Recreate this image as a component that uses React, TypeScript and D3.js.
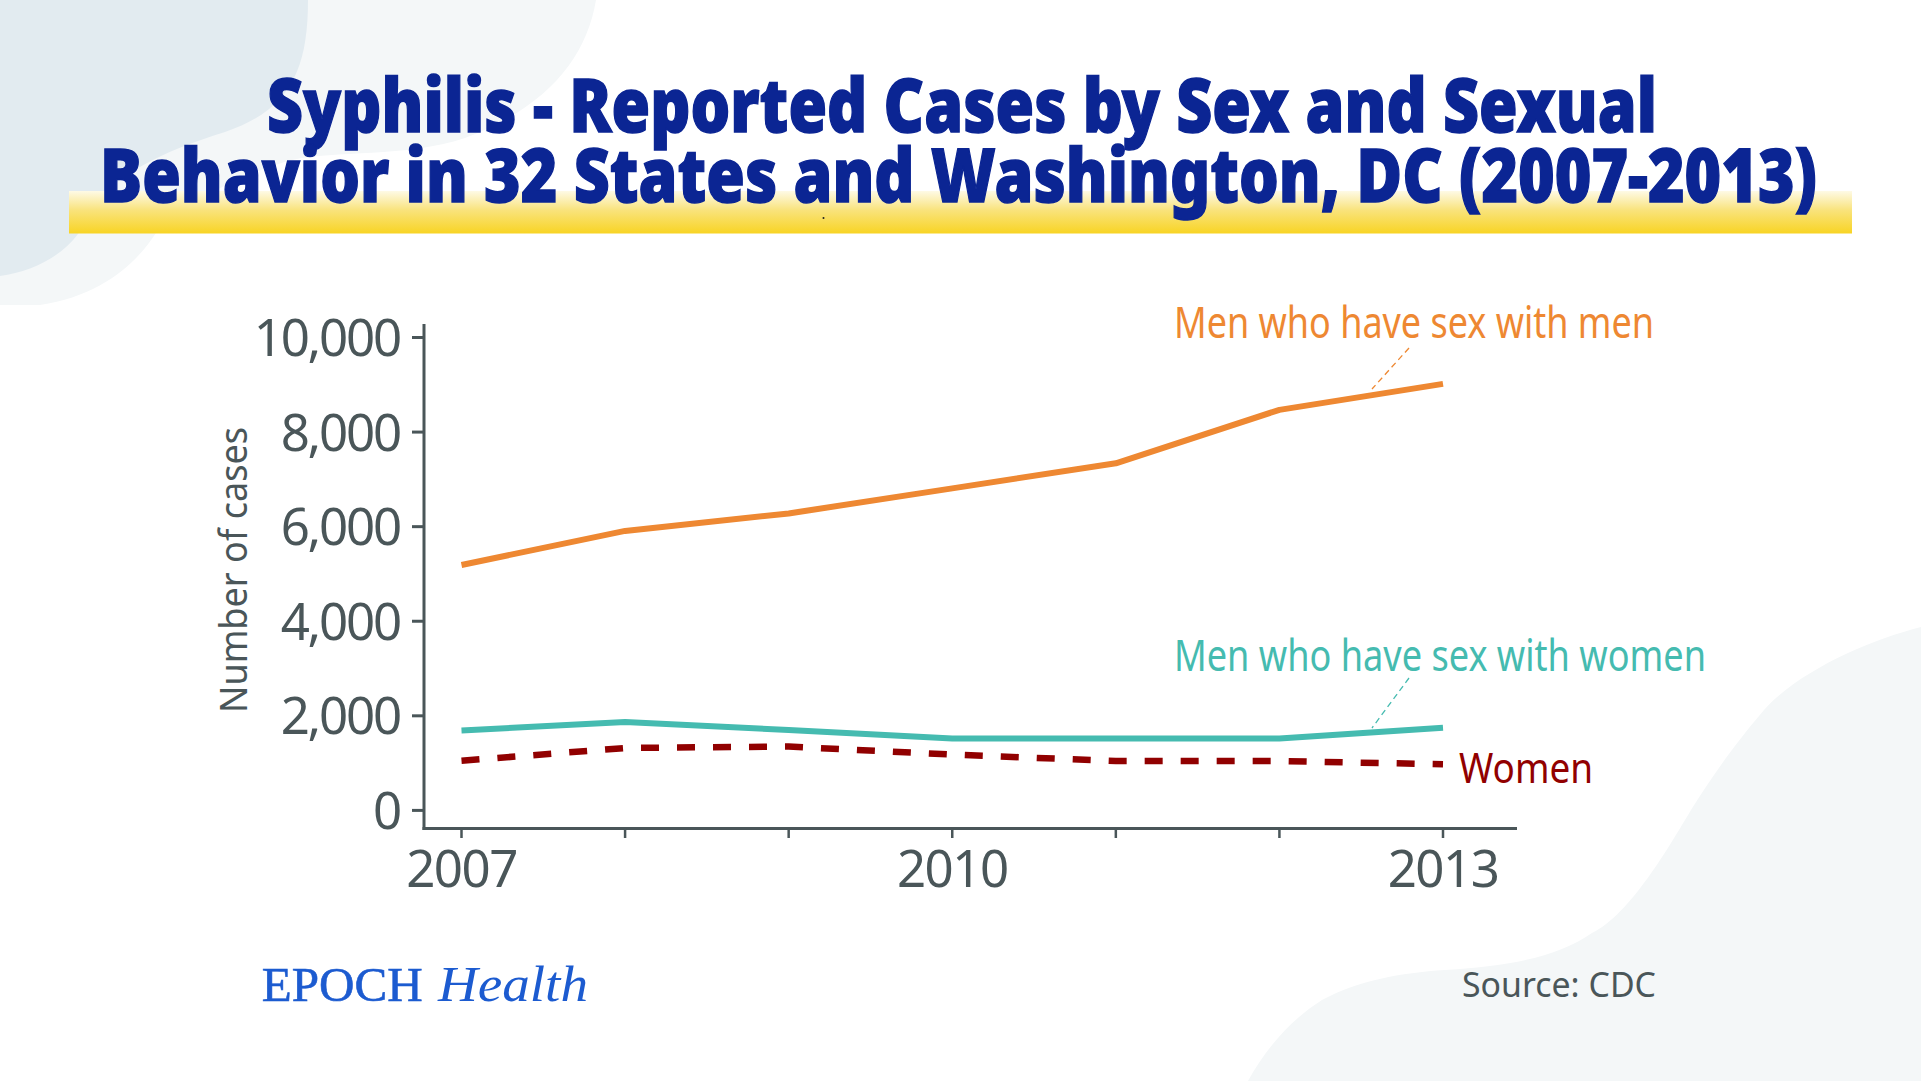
import React from "react";
import * as d3 from "d3";

const years = [2007, 2008, 2009, 2010, 2011, 2012, 2013];
const msmCases = [5190, 5910, 6280, 6810, 7340, 8470, 9020];
const mswCases = [1690, 1870, 1700, 1520, 1520, 1520, 1750];
const womenCases = [1050, 1320, 1350, 1180, 1045, 1045, 975];
const yTickValues = [0, 2000, 4000, 6000, 8000, 10000];
const xLabelYears = [2007, 2010, 2013];

const titleLines = [
  "Syphilis - Reported Cases by Sex and Sexual",
  "Behavior in 32 States and Washington, DC (2007-2013)",
];

const W = 1921;
const H = 1081;
const AXIS = "#4a5659";
const FONT = "'Noto Sans', 'Open Sans', sans-serif";

export default function App() {
  const x = d3.scaleLinear().domain([2007, 2013]).range([461.5, 1443]);
  const y = d3.scaleLinear().domain([0, 10000]).range([810.4, 337.5]);

  const line = d3
    .line<number>()
    .x((_, i) => x(years[i]))
    .y((d) => y(d));

  const series = [
    { values: msmCases, color: "#ee8832", dash: undefined as string | undefined },
    { values: mswCases, color: "#45bbb0", dash: undefined as string | undefined },
    { values: womenCases, color: "#910000", dash: "18,18" },
  ];

  return (
    <div style={{ position: "absolute", left: 0, top: 0 }}>
      <svg width={W} height={H} viewBox={`0 0 ${W} ${H}`} style={{ display: "block" }}>
        <defs>
          <linearGradient id="ybar" x1="0" y1="0" x2="0" y2="1">
            <stop offset="0%" stopColor="#fefae6" />
            <stop offset="45%" stopColor="#f9e37c" />
            <stop offset="100%" stopColor="#f8d424" />
          </linearGradient>
        </defs>
        <rect x={0} y={0} width={W} height={H} fill="#ffffff" />
        {/* background blobs */}
        <path
          d="M0,0 H596 C586,60 545,108 465,138 C405,158 335,150 292,160 C225,178 178,212 156,233 C135,265 100,296 40,305 L0,305 Z"
          fill="#f4f7f8"
        />
        <path
          d="M0,0 H308 C308,70 290,110 225,132 C160,152 118,175 100,200 C88,218 80,232 78,234 C60,258 30,272 0,276 Z"
          fill="#e2ebf0"
        />
        <path
          d="M1921,627 C1870,640 1800,670 1764,710 C1730,750 1710,780 1691,810 C1670,845 1630,915 1592,933 C1560,955 1520,965 1445,970 C1400,973 1360,980 1322,1000 C1290,1020 1265,1050 1248,1081 L1921,1081 Z"
          fill="#f4f7f8"
        />

        {/* title highlight */}
        <rect x={69} y={191} width={1783} height={42.5} fill="url(#ybar)" />
        <circle cx={823.5} cy={218} r={1} fill="#222" />
        <text
          x={267}
          y={131.5}
          fontFamily={FONT}
          fontWeight={900}
          fontSize={75}
          fill="#0b2593"
          stroke="#0b2593"
          strokeWidth={1.4}
          textLength={1390}
          lengthAdjust="spacingAndGlyphs"
        >
          {titleLines[0]}
        </text>
        <text
          x={100}
          y={201.5}
          fontFamily={FONT}
          fontWeight={900}
          fontSize={75}
          fill="#0b2593"
          stroke="#0b2593"
          strokeWidth={1.4}
          textLength={1717}
          lengthAdjust="spacingAndGlyphs"
        >
          {titleLines[1]}
        </text>

        {/* y axis */}
        <line x1={424} x2={424} y1={324} y2={830} stroke={AXIS} strokeWidth={3} />
        {yTickValues.map((v) => (
          <g key={v}>
            <line x1={412} x2={424} y1={y(v)} y2={y(v)} stroke={AXIS} strokeWidth={3} />
            <text
              x={400}
              y={y(v) + 18.5}
              textAnchor="end"
              fontFamily={FONT}
              fontSize={51}
              letterSpacing={-2.2}
              fill={AXIS}
            >
              {d3.format(",")(v)}
            </text>
          </g>
        ))}
        <text
          transform="translate(246.5,570) rotate(-90)"
          textAnchor="middle"
          fontFamily={FONT}
          fontSize={38}
          fill={AXIS}
          textLength={286}
          lengthAdjust="spacingAndGlyphs"
        >
          Number of cases
        </text>

        {/* x axis */}
        <line x1={422.5} x2={1517} y1={828.5} y2={828.5} stroke={AXIS} strokeWidth={3} />
        {years.map((yr) => (
          <line key={yr} x1={x(yr)} x2={x(yr)} y1={828.5} y2={838} stroke={AXIS} strokeWidth={2.5} />
        ))}
        {xLabelYears.map((yr) => (
          <text
            key={yr}
            x={x(yr)}
            y={886.7}
            textAnchor="middle"
            fontFamily={FONT}
            fontSize={51}
            letterSpacing={-1.5}
            fill={AXIS}
          >
            {yr}
          </text>
        ))}

        {/* series */}
        {series.map((s, i) => (
          <path
            key={i}
            d={line(s.values) || ""}
            fill="none"
            stroke={s.color}
            strokeWidth={i === 2 ? 6.5 : 6}
            strokeDasharray={s.dash}
            strokeLinejoin="round"
          />
        ))}

        {/* annotations */}
        <line x1={1409} y1={348} x2={1372} y2={389} stroke="#ee8832" strokeWidth={1.3} strokeDasharray="6,4" />
        <line x1={1409} y1={678} x2={1372} y2={728} stroke="#45bbb0" strokeWidth={1.3} strokeDasharray="6,4" />
        <text
          x={1174}
          y={338.3}
          fontFamily={FONT}
          fontSize={43}
          fill="#ee8832"
          textLength={480}
          lengthAdjust="spacingAndGlyphs"
        >
          Men who have sex with men
        </text>
        <text
          x={1174}
          y={670.7}
          fontFamily={FONT}
          fontSize={43}
          fill="#45bbb0"
          textLength={532}
          lengthAdjust="spacingAndGlyphs"
        >
          Men who have sex with women
        </text>
        <text
          x={1459}
          y={782.7}
          fontFamily={FONT}
          fontSize={42}
          fill="#910000"
          textLength={134}
          lengthAdjust="spacingAndGlyphs"
        >
          Women
        </text>

        {/* footer */}
        <text
          x={261.7}
          y={1001}
          fontFamily="'Liberation Serif', 'DejaVu Serif', serif"
          fontSize={49}
          fill="#1c5bd0"
          stroke="#1c5bd0"
          strokeWidth={0.6}
          textLength={161}
          lengthAdjust="spacingAndGlyphs"
        >
          EPOCH
        </text>
        <text
          x={438}
          y={1001}
          fontFamily="'Liberation Serif', 'DejaVu Serif', serif"
          fontStyle="italic"
          fontSize={50}
          fill="#1c5bd0"
          textLength={150}
          lengthAdjust="spacingAndGlyphs"
        >
          Health
        </text>
        <text
          x={1462}
          y={997}
          fontFamily={FONT}
          fontSize={35}
          fill={AXIS}
          textLength={194}
          lengthAdjust="spacingAndGlyphs"
        >
          Source: CDC
        </text>
      </svg>
    </div>
  );
}
